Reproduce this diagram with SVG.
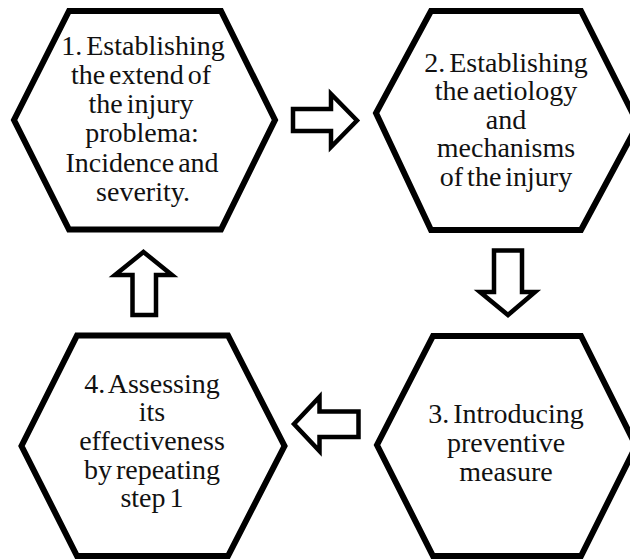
<svg xmlns="http://www.w3.org/2000/svg" width="630" height="560" viewBox="0 0 630 560">
  <style>
    .hex { fill: #ffffff; stroke: #000000; stroke-width: 6; stroke-linejoin: miter; }
    .arrow { fill: #ffffff; stroke: #000000; stroke-width: 4.5; stroke-linejoin: miter; }
    .label { font-family: "Liberation Serif", "Times New Roman", serif; font-size: 28px; fill: #111111; text-anchor: middle; word-spacing: -3px; }
  </style>
  <rect x="0" y="0" width="630" height="560" fill="#ffffff"/>

  <!-- Step 1 -->
  <g id="step1">
    <polygon class="hex" points="69,11 221,11 275,120 221,229.5 69,229.5 14,120"/>
    <text class="label" x="143" y="55">1. Establishing</text>
    <text class="label" x="141" y="84">the extend of</text>
    <text class="label" x="141" y="113">the injury</text>
    <text class="label" x="142" y="142">problema:</text>
    <text class="label" x="142" y="172">Incidence and</text>
    <text class="label" x="143" y="201">severity.</text>
  </g>

  <!-- Step 2 -->
  <g id="step2">
    <polygon class="hex" points="431,11 581,11 638,124 581,230 431,230 376,113"/>
    <text class="label" x="506" y="72">2. Establishing</text>
    <text class="label" x="506" y="100">the aetiology</text>
    <text class="label" x="506" y="129">and</text>
    <text class="label" x="506" y="157">mechanisms</text>
    <text class="label" x="506" y="186">of the injury</text>
  </g>

  <!-- Step 3 -->
  <g id="step3">
    <polygon class="hex" points="433,336 581,336 636,446 581,556 433,556 377,445"/>
    <text class="label" x="506" y="423">3. Introducing</text>
    <text class="label" x="506" y="452">preventive</text>
    <text class="label" x="506" y="481">measure</text>
  </g>

  <!-- Step 4 -->
  <g id="step4">
    <polygon class="hex" points="77,335.5 228,335.5 284.5,446 228,556 77,556 21.5,446"/>
    <text class="label" x="152" y="393">4. Assessing</text>
    <text class="label" x="152" y="421">its</text>
    <text class="label" x="152" y="450">effectiveness</text>
    <text class="label" x="152" y="479">by repeating</text>
    <text class="label" x="152" y="507">step 1</text>
  </g>

  <!-- Block arrows linking the steps -->
  <g id="connectors">
    <path class="arrow" d="M293,109 L331,109 L331,94 L357,120.5 L331,147 L331,131 L293,131 Z"/>
    <path class="arrow" d="M494,250.5 L522,250.5 L522,292 L535,292 L508,315 L480,292 L494,292 Z"/>
    <path class="arrow" d="M294,424 L319.5,397 L319.5,411.5 L358.5,411.5 L358.5,437 L319.5,437 L319.5,451 Z"/>
    <path class="arrow" d="M143.5,252 L172,275 L156,275 L156,315 L132.5,315 L132.5,275 L115,275 Z"/>
  </g>
</svg>
